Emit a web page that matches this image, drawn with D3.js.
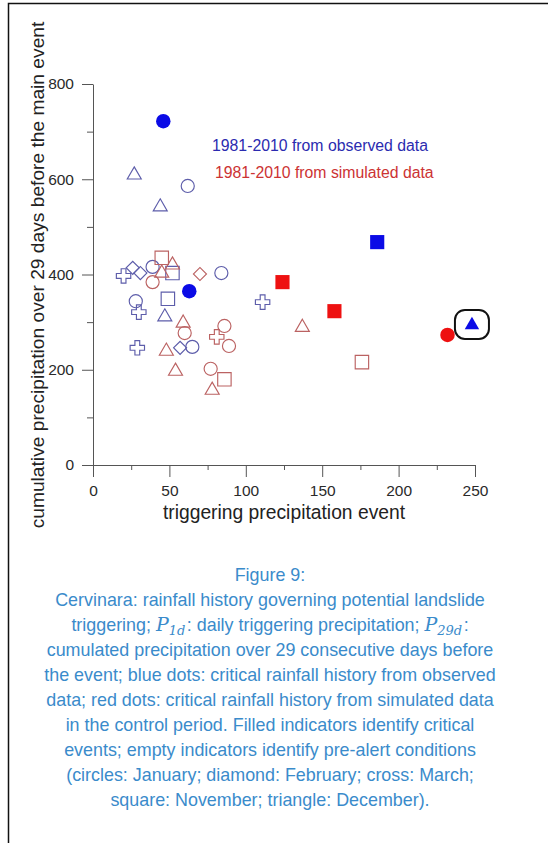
<!DOCTYPE html>
<html>
<head>
<title>Figure 9</title>
<style>
body { margin: 0; background: #fff; }
</style>
</head>
<body>
<div id="chart"></div>
<script src="https://d3js.org/d3.v7.min.js"></script>
<script>
const width = 548;
const height = 843;

// [P1d, P29d, month]
const observedCritical = [
  [46, 722, "Jan"], [63, 365, "Jan"], [186, 468, "Nov"], [248, 294, "Dec"]
];
const observedPreAlert = [
  [27, 609, "Dec"], [44, 542, "Dec"], [62, 586, "Jan"],
  [26, 414, "Feb"], [31, 403, "Feb"], [39, 416, "Jan"], [52, 403, "Nov"],
  [20, 397, "Mar"], [84, 403, "Jan"], [28, 344, "Jan"], [30, 321, "Mar"],
  [49, 349, "Nov"], [47, 311, "Dec"], [111, 342, "Mar"], [29, 246, "Mar"],
  [57, 246, "Feb"], [65, 248, "Jan"]
];
const simulatedCritical = [
  [124, 384, "Nov"], [158, 323, "Nov"], [232, 273, "Jan"]
];
const simulatedPreAlert = [
  [45, 435, "Nov"], [52, 420, "Dec"], [45, 403, "Dec"], [39, 384, "Jan"],
  [70, 401, "Feb"], [59, 298, "Dec"], [60, 277, "Jan"], [86, 292, "Jan"],
  [81, 269, "Mar"], [89, 250, "Jan"], [48, 239, "Dec"], [54, 197, "Dec"],
  [77, 202, "Jan"], [86, 180, "Nov"], [78, 157, "Dec"], [137, 289, "Dec"],
  [176, 216, "Nov"]
];
const xTicks = [0, 50, 100, 150, 200, 250];
const yTicks = [0, 200, 400, 600, 800];

const svg = d3.select("#chart").append("svg")
  .attr("width", width)
  .attr("height", height);

svg.append("rect").attr("width", width).attr("height", height).attr("fill", "#fff");

// page frame
svg.append("path")
  .attr("d", "M8.5 " + height + " V3.5 H" + width)
  .attr("fill", "none")
  .attr("stroke", "#111")
  .attr("stroke-width", 1.5);

const x = d3.scaleLinear().domain([0, 250]).range([93, 475]);
const y = d3.scaleLinear().domain([0, 800]).range([465, 84]);

const axisColor = "#555";
const font = "Liberation Sans, Arial, sans-serif";

// y axis
svg.append("g")
  .attr("transform", "translate(93,0)")
  .call(d3.axisLeft(y).tickValues(yTicks).tickSize(11).tickPadding(8).tickSizeOuter(0));
svg.append("g")
  .attr("transform", "translate(93,0)")
  .call(d3.axisLeft(y).tickValues([100, 300, 500, 700]).tickSize(6).tickFormat("").tickSizeOuter(0))
  .select(".domain").remove();

// x axis
svg.append("g")
  .attr("transform", "translate(0,465)")
  .call(d3.axisBottom(x).tickValues(xTicks).tickSize(12).tickPadding(8).tickSizeOuter(0));
svg.append("g")
  .attr("transform", "translate(0,465)")
  .call(d3.axisBottom(x).tickValues([25, 75, 125, 175, 225]).tickSize(5).tickFormat("").tickSizeOuter(0))
  .select(".domain").remove();

svg.selectAll(".domain, .tick line").attr("stroke", axisColor);
svg.selectAll("g").attr("font-size", 15.5).attr("font-family", font);
svg.selectAll(".tick text").attr("fill", "#2a2a2a");

// axis titles
svg.append("text")
  .attr("x", 284)
  .attr("y", 519)
  .attr("text-anchor", "middle")
  .attr("font-family", font)
  .attr("font-size", 19.3)
  .attr("fill", "#222")
  .text("triggering precipitation event");

svg.append("text")
  .attr("transform", "translate(44,275) rotate(-90)")
  .attr("text-anchor", "middle")
  .attr("font-family", font)
  .attr("font-size", 19.2)
  .attr("fill", "#222")
  .text("cumulative precipitation over 29 days before the main event");

// legend texts
svg.append("text")
  .attr("x", 212).attr("y", 151)
  .attr("font-family", font)
  .attr("font-size", 15.8)
  .attr("fill", "#2b2bb0")
  .text("1981-2010 from observed data");
svg.append("text")
  .attr("x", 215).attr("y", 178)
  .attr("font-family", font)
  .attr("font-size", 15.8)
  .attr("fill", "#cc3333")
  .text("1981-2010 from simulated data");

// symbols
const shapes = {
  Jan: { type: d3.symbolCircle, size: 135, rot: 0 },
  Feb: { type: d3.symbolSquare, size: 85, rot: 45 },
  Mar: { type: d3.symbolCross, size: 115, rot: 0 },
  Nov: { type: d3.symbolSquare, size: 180, rot: 0 },
  Dec: { type: d3.symbolTriangle, size: 85, rot: 0 }
};
const filledSize = { Jan: 165, Nov: 200, Dec: 90 };

function drawPoints(data, color, filled) {
  svg.append("g").selectAll("path")
    .data(data)
    .join("path")
    .attr("transform", d => "translate(" + x(d[0]) + "," + y(d[1]) + ") rotate(" + shapes[d[2]].rot + ")")
    .attr("d", d => d3.symbol().type(shapes[d[2]].type)
      .size(filled ? filledSize[d[2]] || shapes[d[2]].size : shapes[d[2]].size)())
    .attr("fill", filled ? color : "none")
    .attr("stroke", filled ? "none" : color)
    .attr("stroke-width", 1.15);
}

drawPoints(observedPreAlert, "#5d5daa", false);
drawPoints(simulatedPreAlert, "#bb6262", false);
drawPoints(observedCritical, "#0b0be6", true);
drawPoints(simulatedCritical, "#ee1111", true);

// highlight box round the last observed event
const hl = observedCritical[3];
svg.append("rect")
  .attr("x", x(hl[0]) - 17)
  .attr("y", y(hl[1]) - 15)
  .attr("width", 34)
  .attr("height", 29)
  .attr("rx", 10)
  .attr("fill", "none")
  .attr("stroke", "#111")
  .attr("stroke-width", 2);

// caption
const capColor = "#3a8bcb";
const lines = [
  ["Figure 9:"],
  ["Cervinara: rainfall history governing potential landslide"],
  ["triggering; ", ["P", "1d"], ": daily triggering precipitation; ", ["P", "29d"], ":"],
  ["cumulated precipitation over 29 consecutive days before"],
  ["the event; blue dots: critical rainfall history from observed"],
  ["data; red dots: critical rainfall history from simulated data"],
  ["in the control period. Filled indicators identify critical"],
  ["events; empty indicators identify pre-alert conditions"],
  ["(circles: January; diamond: February; cross: March;"],
  ["square: November; triangle: December)."]
];

lines.forEach((parts, i) => {
  const t = svg.append("text")
    .attr("x", 270)
    .attr("y", 581 + i * 25)
    .attr("text-anchor", "middle")
    .attr("font-family", font)
    .attr("font-size", 17.9)
    .attr("fill", capColor);
  let shifted = false;
  parts.forEach(p => {
    if (typeof p === "string") {
      const s = t.append("tspan").text(p);
      if (shifted) s.attr("dy", -4).attr("dx", 1.5);
      shifted = false;
    } else {
      t.append("tspan")
        .attr("font-family", "DejaVu Serif, Liberation Serif, serif")
        .attr("font-style", "italic")
        .attr("font-size", 19)
        .text(p[0]);
      t.append("tspan")
        .attr("font-family", "DejaVu Serif, Liberation Serif, serif")
        .attr("font-style", "italic")
        .attr("font-size", 13)
        .attr("dy", 4)
        .text(p[1]);
      shifted = true;
    }
  });
});
</script>
</body>
</html>
